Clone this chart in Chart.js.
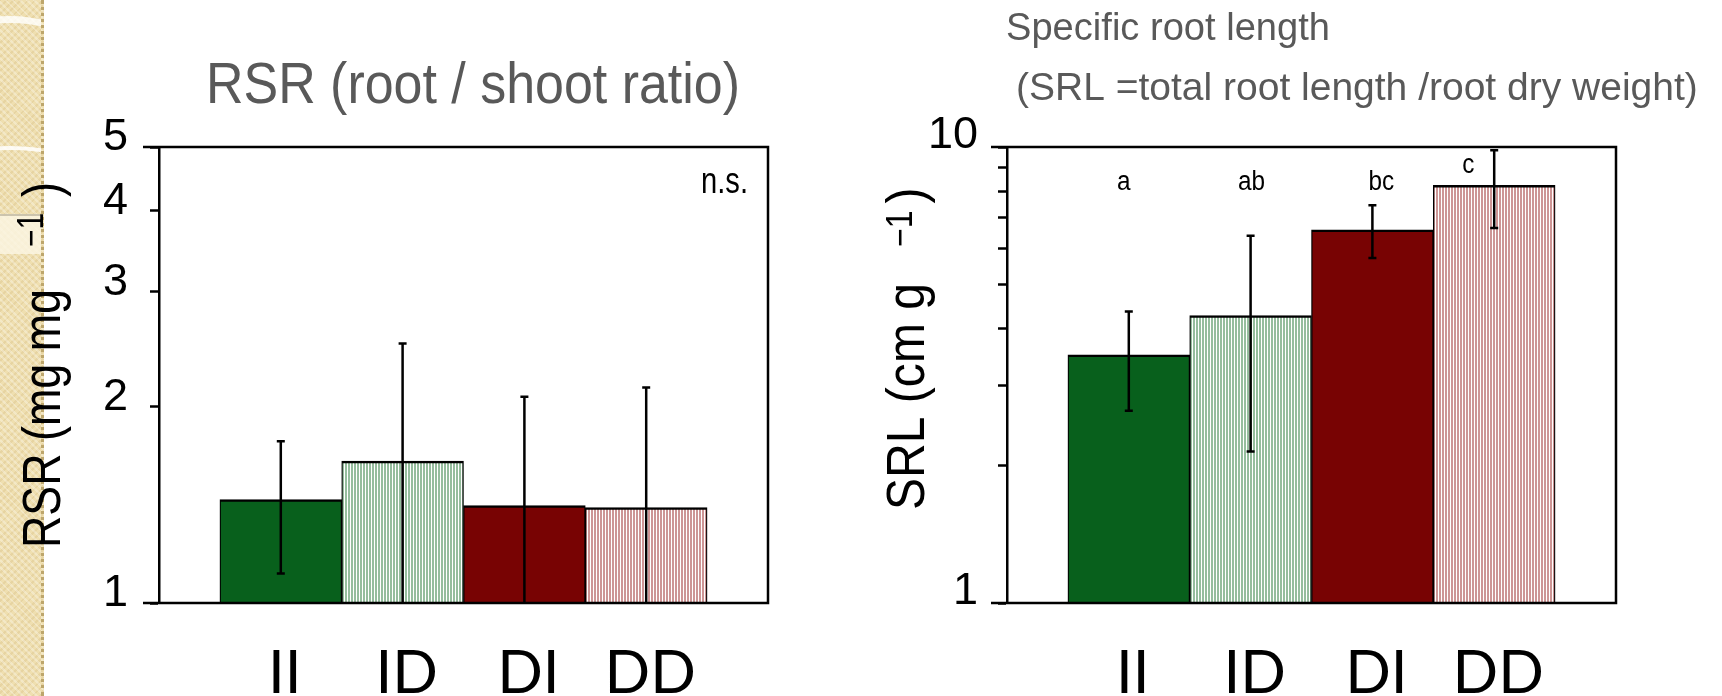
<!DOCTYPE html>
<html>
<head>
<meta charset="utf-8">
<script src="https://cdn.jsdelivr.net/npm/chart.js@4.4.1/dist/chart.umd.min.js"></script>
<style>
  html, body { margin: 0; padding: 0; background: #fff; }
  body { width: 1722px; height: 696px; position: relative; overflow: hidden; }
  #strip {
    position: absolute; left: 0; top: 0; width: 41px; height: 696px; overflow: hidden;
    background-color: #efdfb0;
    background-image:
      repeating-linear-gradient(45deg, rgba(255,255,255,.28) 0 2px, transparent 2px 5px),
      repeating-linear-gradient(-45deg, rgba(185,155,85,.16) 0 2px, transparent 2px 5px);
    border-right: 3px dotted #bda66c;
  }
  .sw { position: absolute; border-radius: 50%; }
  canvas { position: absolute; top: 0; }
  #rsr { left: 0; }
  #srl { left: 860px; }
</style>
</head>
<body>
<div id="strip">
  <div class="sw" style="left:-90px;top:16px;width:200px;height:140px;border-top:7px solid rgba(255,255,255,.8);"></div>
  <div class="sw" style="left:-120px;top:146px;width:260px;height:160px;border-top:4px solid rgba(255,255,255,.85);"></div>
  <div class="sw" style="left:-40px;top:214px;width:120px;height:38px;background:rgba(250,244,225,.85);border-top:2px solid rgba(160,150,130,.5);border-radius:0 20px 20px 0;"></div>
</div>
<canvas id="rsr" width="860" height="696"></canvas>
<canvas id="srl" width="862" height="696"></canvas>

<script>
// treatments
const categories = ['II', 'ID', 'DI', 'DD'];

// root / shoot ratio (mg mg-1), mean and SE
const rsrMean = [1.44, 1.65, 1.41, 1.40];
const rsrErr = [0.33, 0.85, 0.66, 0.74];
const rsrTicks = [1, 2, 3, 4, 5];

// specific root length (cm g-1), mean and SE
const srlMean = [3.5, 4.27, 6.58, 8.24];
const srlErr = [0.86, 2.12, 0.87, 1.6];
const srlLetters = ['a', 'ab', 'bc', 'c'];
const srlTicks = [1, 2, 3, 4, 5, 6, 7, 8, 9, 10];
const srlTickLabels = ['1', '10'];

const SANS = "'Liberation Sans', Arial, sans-serif";

function stripes(color) {
  const c = document.createElement('canvas');
  c.width = 3; c.height = 4;
  const g = c.getContext('2d');
  g.fillStyle = '#fff';
  g.fillRect(0, 0, 3, 4);
  g.fillStyle = color;
  g.fillRect(0, 0, 2, 4);
  return g.createPattern(c, 'repeat');
}
const barFills = ['#08601c', stripes('#95bd9d'), '#780303', stripes('#cd9595')];

// text drawn squeezed horizontally (the slide text is a bit condensed)
function hText(ctx, text, x, y, font, sx, align) {
  ctx.save();
  ctx.translate(x, y);
  ctx.scale(sx, 1);
  ctx.font = font;
  ctx.textAlign = align || 'left';
  ctx.fillText(text, 0, 0);
  ctx.restore();
}
// rotated text going upward, returns its length on screen
function vText(ctx, text, x, y, font, sx) {
  ctx.save();
  ctx.translate(x, y);
  ctx.rotate(-Math.PI / 2);
  ctx.scale(sx, 1);
  ctx.font = font;
  ctx.textAlign = 'left';
  ctx.fillText(text, 0, 0);
  const w = ctx.measureText(text).width * sx;
  ctx.restore();
  return w;
}

function decor(cfg) {
  return {
    id: 'decor',
    afterDatasetsDraw(chart) {
      const { ctx, chartArea: a, scales: { x, y } } = chart;
      ctx.save();
      ctx.strokeStyle = '#000';
      ctx.lineWidth = 2.5;
      // frame, top and bottom lines run out past the axis like ticks
      ctx.beginPath();
      ctx.moveTo(a.left - 16, a.top);
      ctx.lineTo(a.right, a.top);
      ctx.lineTo(a.right, a.bottom);
      ctx.lineTo(a.left - 16, a.bottom);
      ctx.stroke();
      // error bars
      cfg.mean.forEach((m, i) => {
        const px = x.getPixelForValue(i + 1);
        const top = y.getPixelForValue(m + cfg.err[i]);
        const lo = m - cfg.err[i];
        const bot = lo > y.min ? y.getPixelForValue(lo) : a.bottom;
        ctx.beginPath();
        ctx.moveTo(px, top); ctx.lineTo(px, bot);
        ctx.moveTo(px - 4, top); ctx.lineTo(px + 4, top);
        if (lo > y.min) { ctx.moveTo(px - 4, bot); ctx.lineTo(px + 4, bot); }
        ctx.stroke();
      });
      ctx.restore();
    },
    afterDraw(chart) {
      const { ctx, chartArea: a, scales: { x } } = chart;
      ctx.save();
      ctx.textBaseline = 'alphabetic';
      // titles
      ctx.fillStyle = '#595959';
      cfg.titles.forEach(t => {
        ctx.font = t.font;
        ctx.textAlign = t.align;
        ctx.fillText(t.text, t.x, t.y, t.maxWidth);
      });
      // y axis title with superscript
      ctx.fillStyle = '#000';
      const yt = cfg.yTitle;
      let py = yt.y;
      py -= vText(ctx, yt.main, yt.x, py, '54px ' + SANS, yt.sx) + yt.gap1;
      py -= vText(ctx, yt.sup, yt.x - yt.raise, py, '36px ' + SANS, yt.sx) + yt.gap2;
      vText(ctx, yt.close, yt.x, py, '54px ' + SANS, yt.sx);
      // annotations
      if (cfg.ns) hText(ctx, 'n.s.', a.right - 20, a.top + 46, '36px ' + SANS, 0.81, 'right');
      if (cfg.letters) {
        cfg.letters.forEach((l, i) => {
          hText(ctx, l, x.getPixelForValue(i + 1) + cfg.letterDx[i], a.top + cfg.letterDy[i], '27px ' + SANS, 0.9, 'center');
        });
      }
      ctx.restore();
    }
  };
}

function makeChart(id, o) {
  return new Chart(document.getElementById(id), {
    type: 'bar',
    data: {
      datasets: [{
        data: o.mean.map((v, i) => ({ x: i + 1, y: v })),
        backgroundColor: barFills,
        borderColor: '#000',
        borderWidth: { top: 2.5, left: 1.3, right: 1.3, bottom: 0 },
        borderSkipped: false,
        categoryPercentage: 1,
        barPercentage: 1
      }]
    },
    options: {
      responsive: false,
      animation: false,
      layout: { padding: { top: 147, left: 0, right: o.padRight, bottom: 0 } },
      plugins: { legend: { display: false }, tooltip: { enabled: false } },
      scales: {
        x: {
          type: 'linear',
          offset: false,
          min: 0,
          max: 5,
          afterBuildTicks: s => { s.ticks = categories.map((c, i) => ({ value: i + 1 })); },
          afterFit: s => { s.height = 93; },
          ticks: {
            callback: v => categories[v - 1],
            font: { family: 'Lato', size: 60 },
            color: '#000',
            padding: 35,
            labelOffset: 4,
            autoSkip: false,
            maxRotation: 0
          },
          grid: { display: false, drawTicks: false, offset: false },
          border: { display: false }
        },
        y: {
          type: 'logarithmic',
          min: 1,
          max: o.max,
          afterBuildTicks: s => { s.ticks = o.ticks.map(v => ({ value: v })); },
          afterFit: s => { s.width = o.axisW; },
          ticks: {
            callback: v => o.tickLabels.includes(String(v)) ? String(v) : '',
            font: { family: 'Liberation Sans', size: 45 },
            color: '#000',
            padding: o.tickPad,
            labelOffset: o.labelOffset,
            autoSkip: false
          },
          grid: { drawOnChartArea: false, tickLength: 9, tickColor: '#000', tickWidth: 2.5 },
          border: { display: true, color: '#000', width: 2.5 }
        }
      }
    },
    plugins: [decor(o)]
  });
}

makeChart('rsr', {
  mean: rsrMean, err: rsrErr, ticks: rsrTicks, tickLabels: rsrTicks.map(String),
  max: 5, axisW: 159, padRight: 92, tickPad: 22, labelOffset: -9,
  titles: [{ text: 'RSR (root / shoot ratio)', x: 473, y: 103, font: '57px ' + SANS, align: 'center', maxWidth: 534 }],
  yTitle: { main: 'RSR (mg mg', sup: '\u22121', close: ')', x: 60, y: 548, sx: 0.83, gap1: 42, gap2: 16, raise: 17 },
  ns: true
});

makeChart('srl', {
  mean: srlMean, err: srlErr, ticks: srlTicks, tickLabels: srlTickLabels,
  max: 10, axisW: 147, padRight: 106, tickPad: 20, labelOffset: -11,
  titles: [
    { text: 'Specific root length', x: 146, y: 40, font: '39px ' + SANS, align: 'left', maxWidth: 324 },
    { text: '(SRL =total root length /root dry weight)', x: 156, y: 100, font: '39px ' + SANS, align: 'left', maxWidth: 686 }
  ],
  yTitle: { main: 'SRL (cm g', sup: '\u22121', close: ')', x: 64, y: 510, sx: 0.89, gap1: 36, gap2: 7, raise: 12 },
  letters: srlLetters,
  letterDx: [-5, 1, 9, -26],
  letterDy: [43, 43, 43, 26]
});
</script>
</body>
</html>
